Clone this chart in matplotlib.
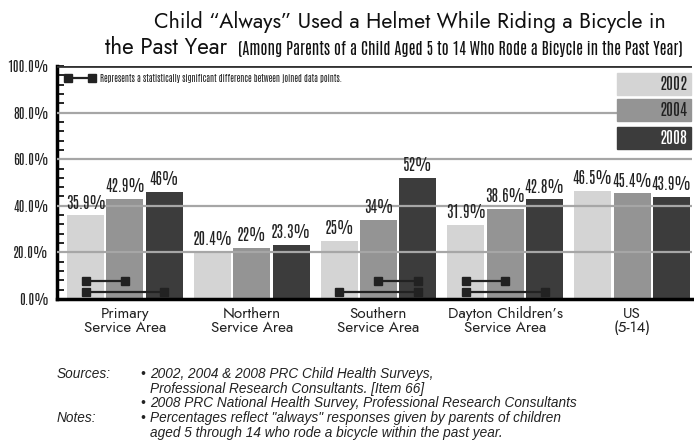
import numpy as np
import matplotlib
matplotlib.use("Agg")
import matplotlib.pyplot as plt
import matplotlib.transforms as mtransforms
from matplotlib.patches import Rectangle

# data
areas = ["Primary\nService Area", "Northern\nService Area", "Southern\nService Area",
         "Dayton Children\u2019s\nService Area", "US\n(5-14)"]
years = ["2002", "2004", "2008"]
pct_2002 = [35.9, 20.4, 25, 31.9, 46.5]
pct_2004 = [42.9, 22, 34, 38.6, 45.4]
pct_2008 = [46, 23.3, 52, 42.8, 43.9]
# statistically significant pairs: (area, first year, second year)
sig_pairs = [(0, 0, 1), (0, 0, 2), (2, 1, 2), (2, 0, 2), (3, 0, 1), (3, 0, 2)]

colors = ["#d4d4d4", "#949494", "#3c3c3c"]
text_colors = ["#222222", "#222222", "white"]
narrow = ["Antonio", "Fira Sans Extra Condensed", "DejaVu Sans"]
round_font = ["Jost", "DejaVu Sans"]

W, H = 694, 445
fig = plt.figure(figsize=(W / 100, H / 100), dpi=100)
ax = fig.add_axes([57 / W, 1 - 299 / H, (692 - 57) / W, (299 - 66) / H])

series = [pct_2002, pct_2004, pct_2008]
x = np.arange(len(areas))
step = 0.31
width = 0.292
for i, vals in enumerate(series):
    xs = x + (i - 1) * step
    ax.bar(xs, vals, width, color=colors[i], zorder=2)
    for xi, v in zip(xs, vals):
        ax.text(xi, v + 2.0, f"{v:g}%", ha="center", va="bottom", fontsize=11.2,
                family=narrow, fontweight="semibold", color="#222222", zorder=4)

# significance connectors
for area, a, b in sig_pairs:
    level = 3 if (b - a) == 2 else 7.8
    xa = area + (a - 1) * step
    xb = area + (b - 1) * step
    ax.plot([xa, xb], [level, level], color="#222222", lw=1.6, marker="s",
            markersize=5.5, zorder=5)

ax.set_xlim(-0.536, 4.473)
ax.set_ylim(0, 100)

for gy in [20, 40, 60, 80]:
    ax.axhline(gy, color="#a6a6a6", lw=1.6, zorder=3)
ax.axhline(100, color="#333333", lw=2, zorder=3)

for side in ["top", "right"]:
    ax.spines[side].set_visible(False)
ax.spines["left"].set_linewidth(2.5)
ax.spines["bottom"].set_linewidth(2.5)
ax.spines["bottom"].set_zorder(6)

ax.set_yticks(np.arange(0, 101, 20))
ax.set_yticklabels([f"{t:.1f}%" for t in np.arange(0, 101, 20)], family=narrow,
                   fontsize=9.8, fontweight="semibold", color="#222222")
ax.set_yticks(np.arange(0, 101, 4), minor=True)
ax.tick_params(axis="y", which="both", direction="in", length=5, width=1.2, pad=6)
ax.tick_params(axis="x", length=0, pad=5)
ax.set_xticks(x)
ax.set_xticklabels(areas, family=round_font, fontsize=11, color="#222222",
                   linespacing=0.9)

# year key boxes
trans = mtransforms.blended_transform_factory(ax.transAxes, ax.transData)
box_left = (617 - 57) / (692 - 57)
box_w = (691 - 617) / (692 - 57)
box_tops = [97.0, 85.8, 74.0]
for i, yr in enumerate(years):
    ax.add_patch(Rectangle((box_left, box_tops[i] - 9.6), box_w, 9.6, transform=trans,
                           color=colors[i], zorder=6, clip_on=False))
    ax.text(box_left + box_w - 0.006, box_tops[i] - 4.8, yr, transform=trans,
            ha="right", va="center", fontsize=12, family=narrow,
            color=text_colors[i], zorder=7)

# significance key
ax.plot([0.018, 0.055], [94.8, 94.8], transform=trans, color="#222222", lw=1.6,
        marker="s", markersize=5.5, zorder=5, clip_on=False)
ax.text(0.068, 94.8, "Represents a statistically significant difference between joined data points.",
        transform=trans, ha="left", va="center", fontsize=6.2, family=narrow,
        color="#222222")

# titles
fig.text(410 / W, 1 - 22 / H, "Child \u201cAlways\u201d Used a Helmet While Riding a Bicycle in",
         ha="center", va="center", fontsize=15.4, family=round_font, color="#111111")
fig.text(105 / W, 1 - 47 / H, "the Past Year", ha="left", va="center", fontsize=16.2,
         family=round_font, color="#111111")
fig.text(683 / W, 1 - 49 / H,
         "(Among Parents of a Child Aged 5 to 14 Who Rode a Bicycle in the Past Year)",
         ha="right", va="center", fontsize=11.4, family=narrow, fontweight="semibold",
         color="#111111")

# footnotes
note_font = dict(fontsize=9.8, family=["Liberation Sans", "DejaVu Sans"], style="italic",
                 color="#222222", va="center")
rows = [374, 389, 403, 418, 433]
fig.text(57 / W, 1 - rows[0] / H, "Sources:", **note_font)
fig.text(140 / W, 1 - rows[0] / H, "\u2022", **note_font)
fig.text(150 / W, 1 - rows[0] / H, "2002, 2004 & 2008 PRC Child Health Surveys,", **note_font)
fig.text(150 / W, 1 - rows[1] / H, "Professional Research Consultants. [Item 66]", **note_font)
fig.text(140 / W, 1 - rows[2] / H, "\u2022", **note_font)
fig.text(150 / W, 1 - rows[2] / H, "2008 PRC National Health Survey, Professional Research Consultants",
         **note_font)
fig.text(57 / W, 1 - rows[3] / H, "Notes:", **note_font)
fig.text(140 / W, 1 - rows[3] / H, "\u2022", **note_font)
fig.text(150 / W, 1 - rows[3] / H,
         "Percentages reflect \"always\" responses given by parents of children", **note_font)
fig.text(150 / W, 1 - rows[4] / H, "aged 5 through 14 who rode a bicycle within the past year.",
         **note_font)

fig.savefig("out.png", dpi=100)
